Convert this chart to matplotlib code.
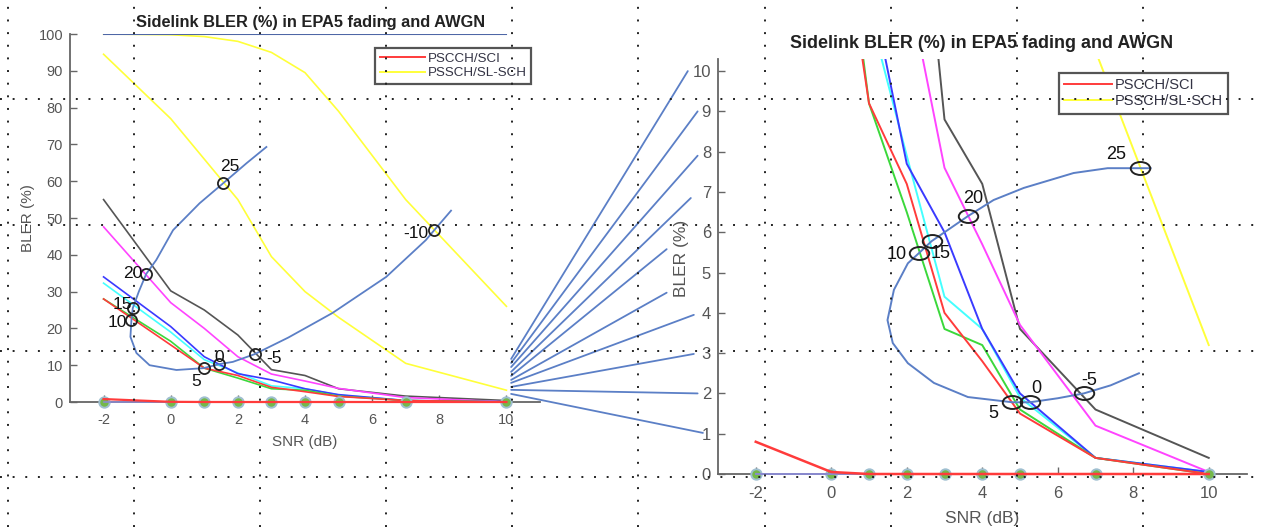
import matplotlib
matplotlib.use("Agg")
import matplotlib.pyplot as plt
from matplotlib.patches import ConnectionPatch
from matplotlib.lines import Line2D
from matplotlib.path import Path
from matplotlib.transforms import Affine2D

plt.rcParams['font.family'] = ['Liberation Sans', 'DejaVu Sans']
plt.rcParams['axes.unicode_minus'] = False

# SNR points of the simulation
snr = [-2, 0, 1, 2, 3, 4, 5, 7, 10]

# BLER curves (%)
bler_gray = [55, 30.2, 25, 18.2, 8.8, 7.2, 3.6, 1.6, 0.4]
bler_magenta = [47.6, 27, 20, 12.3, 7.6, 5.7, 3.7, 1.2, 0.05]
bler_blue = [34, 20.5, 12.3, 7.7, 6.0, 3.6, 2.0, 0.4, 0.05]
bler_cyan = [32.3, 19, 11.5, 7.9, 4.4, 3.6, 1.9, 0.4, 0.05]
bler_red = [28, 15.5, 9.2, 7.2, 4.0, 2.8, 1.5, 0.4, 0.0]
bler_green = [28, 16.5, 9.2, 6.5, 3.6, 3.2, 1.6, 0.4, 0.0]
bler_slsch_a = [100, 99.8, 99.3, 98, 95, 89.5, 79, 55, 26]
bler_slsch_b = [94.5, 77, 66, 55, 39.5, 30, 23, 10.5, 3.2]
bler_sci = [0.8, 0.05, 0, 0, 0, 0, 0, 0, 0]
bler_zero = [0, 0, 0, 0, 0, 0, 0, 0, 0]
bler_top = [100, 100, 100, 100, 100, 100, 100, 100, 100]

# overlay locus on the left plot (SNR, BLER)
locL_x = [2.85, 2.26, 1.57, 0.86, 0.07, -0.43, -0.73, -0.95, -1.13, -1.17, -1.2,
          -1.02, -0.63, 0.17, 0.98, 1.45, 1.85, 2.5, 3.5, 4.82, 6.42, 7.6, 7.85, 8.35]
locL_y = [69.3, 64.9, 59.5, 54, 46.7, 38.6, 34.8, 30, 25.5, 22.3, 17.7,
          13.3, 10, 8.7, 9.2, 10.3, 10.9, 13, 17.5, 24.2, 34, 44, 46.7, 52]
markL_x = [1.57, -0.73, -1.13, -1.17, 0.98, 1.45, 2.5, 7.85]
markL_y = [59.5, 34.8, 25.5, 22.3, 9.2, 10.3, 13, 46.7]
labL = ['25', '20', '15', '10', '5', '0', '-5', '-10']
labL_x = [1.75, -1.14, -1.43, -1.58, 0.77, 1.45, 3.09, 7.3]
labL_y = [63.9, 34.8, 26.6, 21.7, 5.7, 12.2, 11.9, 45.9]

# overlay locus on the right plot (SNR, BLER)
locR_x = [8.46, 8.17, 7.32, 6.42, 5.1, 4.3, 3.62, 2.66, 2.32, 2.03, 1.66, 1.49,
          1.63, 2.03, 2.72, 3.62, 4.8, 5.26, 6.0, 6.69, 7.4, 8.15]
locR_y = [7.59, 7.59, 7.59, 7.47, 7.1, 6.8, 6.4, 5.78, 5.48, 5.23, 4.57, 3.82,
          3.25, 2.75, 2.26, 1.91, 1.78, 1.78, 1.88, 2.0, 2.2, 2.5]
markR_x = [8.17, 3.62, 2.66, 2.32, 4.8, 5.26, 6.69]
markR_y = [7.59, 6.4, 5.78, 5.48, 1.78, 1.78, 2.0]
labR = ['25', '20', '15', '10', '5', '0', '-5']
labR_x = [7.54, 3.75, 2.9, 1.73, 4.3, 5.42, 6.82]
labR_y = [7.92, 6.85, 5.48, 5.46, 1.51, 2.13, 2.33]

# fan of connector lines: start on left plot, end near right plot y axis
fan_snr0 = 10.14
fan_bler0 = [11.7, 10.6, 9.5, 8.2, 7.1, 6.0, 5.2, 4.1, 3.3, 2.2]
fan_snr1 = [-3.8, -3.54, -3.54, -3.72, -4.36, -4.36, -3.64, -3.64, -3.54, -3.4]
fan_bler1 = [10.0, 9.0, 7.9, 6.85, 5.58, 4.5, 3.95, 2.98, 2.0, 1.02]

# dotted grid over the whole picture (pixels)
grid_x = [8, 134, 260, 386, 512, 638, 765, 891, 1017, 1143]
grid_y = [99, 225, 351, 477]

W, H = 1263, 527
fig = plt.figure(figsize=(W / 100, H / 100), dpi=100)

axL = fig.add_axes([70 / W, (H - 402) / H, 470 / W, 368 / H])
axR = fig.add_axes([718 / W, (H - 474) / H, 528.5 / W, 415 / H])

c_line = {'gray': '#555555', 'magenta': '#ff44ff', 'blue': '#3a3aff', 'cyan': '#44ffff',
          'red': '#ff3b3b', 'green': '#3bd83b', 'yellow': '#ffff3a'}
loc_col = '#5b7fc6'


def draw_curves(ax, lw):
    ax.plot(snr, bler_slsch_a, color=c_line['yellow'], lw=lw)
    ax.plot(snr, bler_top, color='#4e67a6', lw=lw + 0.3)
    ax.plot(snr, bler_slsch_b, color=c_line['yellow'], lw=lw)
    ax.plot(snr, bler_gray, color=c_line['gray'], lw=lw)
    ax.plot(snr, bler_magenta, color=c_line['magenta'], lw=lw)
    ax.plot(snr, bler_cyan, color=c_line['cyan'], lw=lw)
    ax.plot(snr, bler_blue, color=c_line['blue'], lw=lw)
    ax.plot(snr, bler_green, color=c_line['green'], lw=lw)
    ax.plot(snr, bler_red, color=c_line['red'], lw=lw)
    ax.plot(snr, bler_zero, color='#8a8ad0', lw=lw, ls='none', marker='o', ms=7.5,
            mfc='#74b84a', mec='#9fbfd0', mew=1.4, clip_on=False, zorder=3)
    ax.plot(snr, bler_zero, color='#8a8ad0', lw=lw, clip_on=False, zorder=3)
    ax.plot(snr, bler_sci, color=c_line['red'], lw=lw + 0.4, clip_on=False, zorder=3)


def style_axes(ax, fs, pad):
    for s in ['top', 'right']:
        ax.spines[s].set_visible(False)
    for s in ['left', 'bottom']:
        ax.spines[s].set_color('#666666')
        ax.spines[s].set_linewidth(1.3)
    ax.set_xlim(-3, 11)
    ax.set_xticks([-2, 0, 2, 4, 6, 8, 10])
    ax.tick_params(direction='in', length=5, width=1, colors='#666666',
                   labelcolor='#555555', labelsize=fs, pad=5)
    ax.tick_params(axis='x', pad=pad)
    ax.patch.set_visible(False)


def add_legend(ax, x0, y0, fs, hl):
    handles = [Line2D([], [], color=c_line['red'], lw=1.4),
               Line2D([], [], color=c_line['yellow'], lw=1.4)]
    leg = ax.legend(handles, ['PSCCH/SCI', 'PSSCH/SL-SCH'], loc='upper left',
                    bbox_to_anchor=(x0, y0), borderaxespad=0, fontsize=fs,
                    handlelength=hl, handletextpad=0.2, labelspacing=0.15,
                    borderpad=0.35, fancybox=False, framealpha=1, edgecolor='#555555')
    leg.get_frame().set_linewidth(1.6)
    for t in leg.get_texts():
        t.set_color('#333344')


# ---- left plot
draw_curves(axL, 1.2)
style_axes(axL, 10.5, 8)
axL.set_ylim(0, 100)
axL.set_yticks(range(0, 101, 10))
axL.set_xlabel('SNR (dB)', fontsize=11, color='#555555', labelpad=6)
axL.set_ylabel('BLER (%)', fontsize=11, color='#555555')
axL.yaxis.set_label_coords(-0.075, 0.5)
axL.text(0.511, 1.03, 'Sidelink BLER (%) in EPA5 fading and AWGN', transform=axL.transAxes,
         ha='center', va='center', fontsize=11.8, fontweight='bold', color='#222222')
axL.plot(locL_x, locL_y, color=loc_col, lw=1.3, clip_on=False)
axL.plot(markL_x, markL_y, ls='none', marker='o', ms=8, mfc='none', mec='#222222', mew=1.3)
for t, x, y in zip(labL, labL_x, labL_y):
    axL.text(x, y, t, ha='center', va='center', fontsize=12.5, color='#111111')
add_legend(axL, 0.649, 0.962, 9.6, 3.4)

# ---- right plot
draw_curves(axR, 1.4)
style_axes(axR, 12, 9)
axR.set_ylim(0, 10.3)
axR.set_yticks(range(0, 11))
axR.set_xlabel('SNR (dB)', fontsize=12.5, color='#555555', labelpad=7)
axR.set_ylabel('BLER (%)', fontsize=12.5, color='#555555')
axR.yaxis.set_label_coords(-0.055, 0.52)
axR.text(0.498, 1.038, 'Sidelink BLER (%) in EPA5 fading and AWGN', transform=axR.transAxes,
         ha='center', va='center', fontsize=12.9, fontweight='bold', color='#222222')
axR.plot(locR_x, locR_y, color=loc_col, lw=1.4, clip_on=False)
ellipse = Path.unit_circle().transformed(Affine2D().scale(1.5, 1.0))
axR.plot(markR_x, markR_y, ls='none', marker=ellipse, ms=14, mfc='none', mec='#222222', mew=1.4)
for t, x, y in zip(labR, labR_x, labR_y):
    axR.text(x, y, t, ha='center', va='center', fontsize=13, color='#111111')
add_legend(axR, 0.645, 0.966, 10.5, 3.3)

# ---- fan of connectors between the two plots
for b0, x1, b1 in zip(fan_bler0, fan_snr1, fan_bler1):
    con = ConnectionPatch(xyA=(fan_snr0, b0), coordsA=axL.transData,
                          xyB=(x1, b1), coordsB=axR.transData,
                          color=loc_col, lw=1.3)
    fig.add_artist(con)

# ---- dotted grid over everything
axG = fig.add_axes([0, 0, 1, 1], zorder=10)
axG.set_xlim(0, W)
axG.set_ylim(H, 0)
axG.set_xticks(grid_x)
axG.set_yticks(grid_y)
axG.grid(True, color='#222222', lw=1.4, ls=(0, (1, 5.5)))
axG.tick_params(length=0, labelbottom=False, labelleft=False)
for s in axG.spines.values():
    s.set_visible(False)
axG.patch.set_visible(False)

fig.savefig('out.png', dpi=100)
